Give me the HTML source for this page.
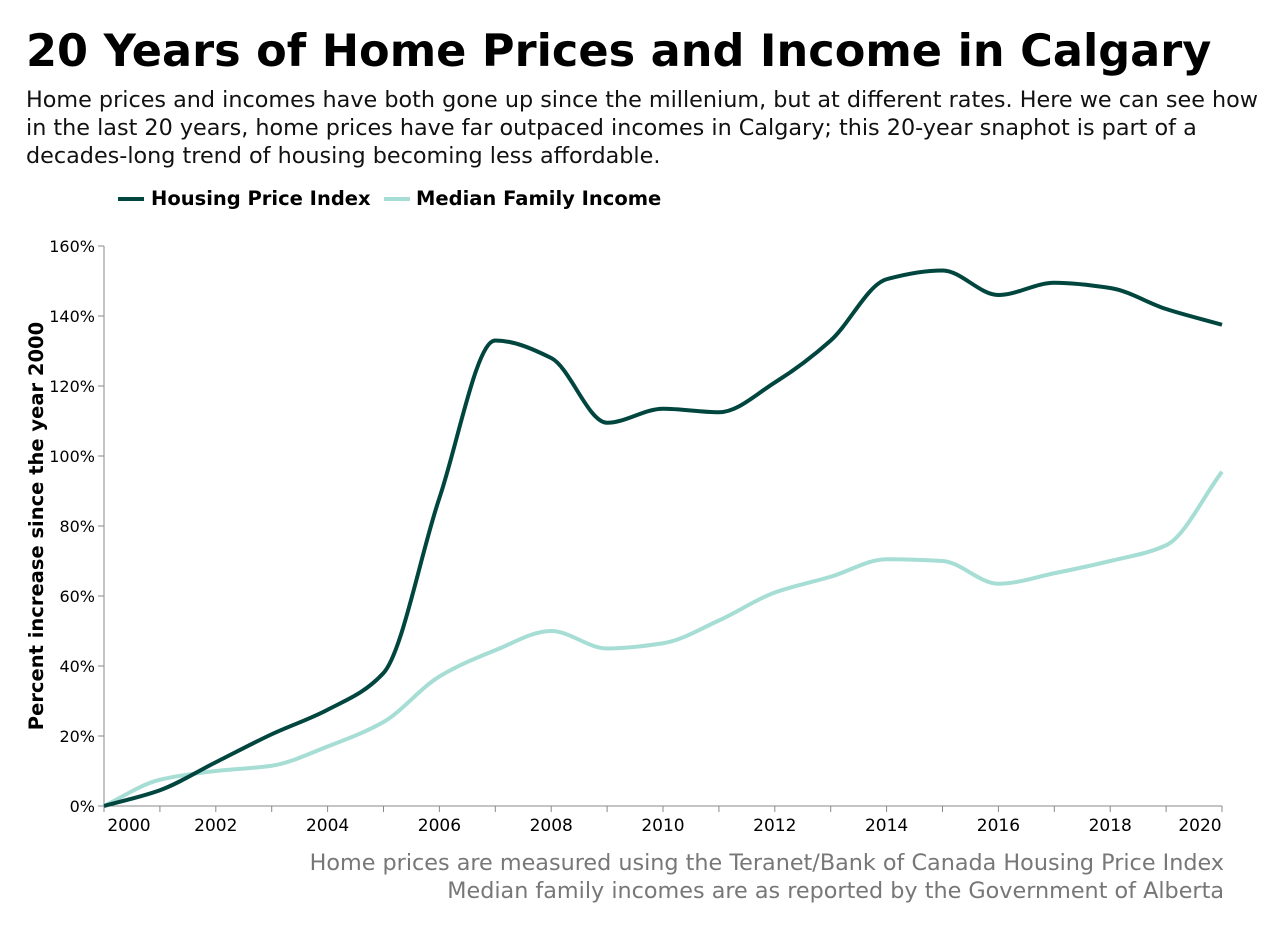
<!DOCTYPE html>
<html><head><meta charset="utf-8">
<style>
html,body{margin:0;padding:0;background:#fff;width:1288px;height:930px;overflow:hidden;font-family:"DejaVu Sans","Liberation Sans",sans-serif;}
</style></head>
<body>
<svg width="1288" height="930" xmlns="http://www.w3.org/2000/svg" font-family="DejaVu Sans, Liberation Sans, sans-serif">
<text x="26" y="66" font-size="44.6" font-weight="bold" fill="#000">20 Years of Home Prices and Income in Calgary</text>
<g font-size="22.3" fill="#111">
<text x="26" y="107">Home prices and incomes have both gone up since the millenium, but at different rates. Here we can see how</text>
<text x="26" y="135">in the last 20 years, home prices have far outpaced incomes in Calgary; this 20-year snaphot is part of a</text>
<text x="26" y="163">decades-long trend of housing becoming less affordable.</text>
</g>
<g font-size="19.5" font-weight="bold">
<line x1="118" y1="199" x2="144" y2="199" stroke="#00463f" stroke-width="4"/>
<text x="151" y="205">Housing Price Index</text>
<line x1="384" y1="199" x2="410" y2="199" stroke="#a6ddd4" stroke-width="4"/>
<text x="416" y="205">Median Family Income</text>
</g>
<text transform="translate(43,526) rotate(-90)" text-anchor="middle" font-size="19.5" font-weight="bold">Percent increase since the year 2000</text>
<g id="axes"></g>
<g id="series"></g>
<g font-size="22.3" fill="#777" text-anchor="end">
<text x="1224" y="870">Home prices are measured using the Teranet/Bank of Canada Housing Price Index</text>
<text x="1224" y="898">Median family incomes are as reported by the Government of Alberta</text>
</g>
</svg>
<script>
const years=[2000,2001,2002,2003,2004,2005,2006,2007,2008,2009,2010,2011,2012,2013,2014,2015,2016,2017,2018,2019,2020];
const hpi=[0,4.5,12.5,20.5,27.5,38,88,133,128,109.5,113.5,112.5,121,133,150.5,153,146,149.5,148,142,137.5];
const income=[0,7.5,10,11.5,17,24,37,44.5,50,45,46.5,53,61,65.5,70.5,70,63.5,66.5,70,74.5,95.5];
const yTicks=[0,20,40,60,80,100,120,140,160];
const xLabels=[2000,2002,2004,2006,2008,2010,2012,2014,2016,2018,2020];
const NS="http://www.w3.org/2000/svg";
const X0=104,X1=1222,Y0=806,Y1=246;
function xs(v){return X0+(v-2000)/20*(X1-X0);}
function ys(v){return Y0-v/160*(Y0-Y1);}
function mk(t,a,p){const e=document.createElementNS(NS,t);for(const k in a)e.setAttribute(k,a[k]);p.appendChild(e);return e;}
const ax=document.getElementById('axes');
const yl=mk('line',{x1:X0,y1:Y0,x2:X0,y2:Y1,stroke:'#888','stroke-width':1},ax);


const xl=mk('line',{x1:X0,y1:Y0,x2:X1,y2:Y0,stroke:'#888','stroke-width':1},ax);


yTicks.forEach(v=>{
 const t=mk('line',{x1:X0-6,y1:ys(v),x2:X0,y2:ys(v),stroke:'#888'},ax);
 
 
 const l=mk('text',{x:X0-9,y:ys(v)+6,'text-anchor':'end','font-size':16},ax);
 l.textContent=v+'%';
 
 
});
years.forEach(v=>{
 const t=mk('line',{x1:xs(v),y1:Y0,x2:xs(v),y2:Y0+6,stroke:'#888'},ax);
 
 
});
xLabels.forEach(v=>{
 let x=xs(v);if(v===2000)x+=25;if(v===2020)x-=22;
 const l=mk('text',{x:x,y:Y0+25,'text-anchor':'middle','font-size':17},ax);
 l.textContent=v;
 
 
});
function path(vals){
 const p=years.map((y,i)=>[xs(y),ys(vals[i])]);
 const n=p.length,h=[],s=[],m=[];
 for(let i=0;i<n-1;i++){h[i]=p[i+1][0]-p[i][0];s[i]=(p[i+1][1]-p[i][1])/h[i];}
 m[0]=s[0];m[n-1]=s[n-2];
 for(let i=1;i<n-1;i++){
  if(s[i-1]*s[i]<=0)m[i]=0;
  else{const w1=2*h[i]+h[i-1],w2=h[i]+2*h[i-1];m[i]=(w1+w2)/(w1/s[i-1]+w2/s[i]);}
 }
 let d='M'+p[0][0]+','+p[0][1];
 for(let i=0;i<n-1;i++){
  const dx=h[i]/3;
  d+=' C'+(p[i][0]+dx)+','+(p[i][1]+m[i]*dx)+' '+(p[i+1][0]-dx)+','+(p[i+1][1]-m[i+1]*dx)+' '+p[i+1][0]+','+p[i+1][1];
 }
 return d;
}
const sg=document.getElementById('series');
const li=mk('path',{d:path(income),fill:'none',stroke:'#a6ddd4','stroke-width':4},sg);


const lh=mk('path',{d:path(hpi),fill:'none',stroke:'#00463f','stroke-width':4},sg);


</script>
</body></html>
